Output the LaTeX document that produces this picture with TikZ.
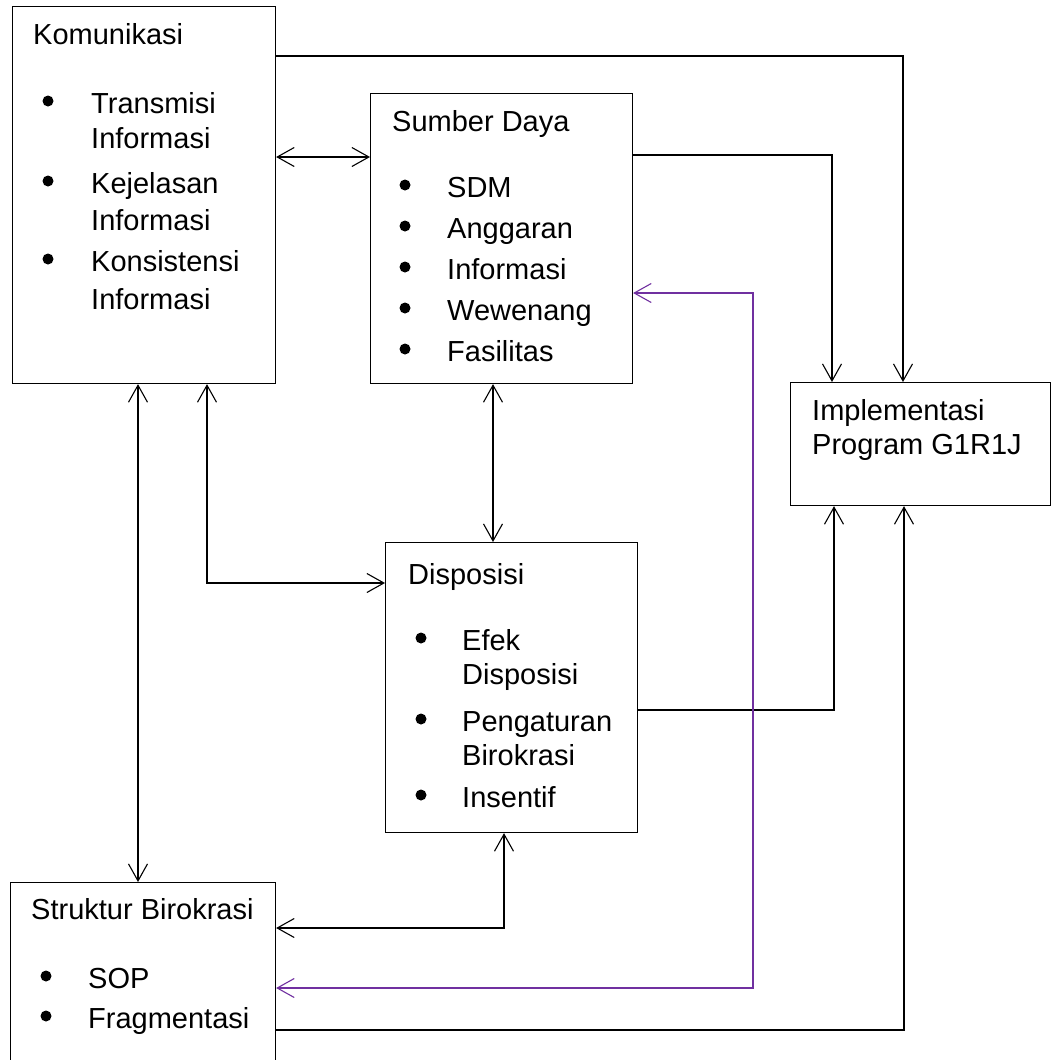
\documentclass[tikz,border=0pt]{standalone}
\usepackage{fontspec}
\setmainfont{Liberation Sans}
\usetikzlibrary{arrows.meta}

\definecolor{linkpurple}{RGB}{112,48,160}

\begin{document}
\begin{tikzpicture}[x=1bp,y=-1bp,
  box/.style={draw, line width=1.1bp, anchor=north west, inner sep=0pt},
  txt/.style={anchor=base west, inner sep=0pt, font=\fontsize{29bp}{34bp}\selectfont},
  dot/.style={circle, fill, inner sep=0pt, minimum size=11bp},
  link/.style={line width=1.1bp, -{Straight Barb[length=17bp,width=19bp]}},
  both/.style={line width=1.1bp, {Straight Barb[length=17bp,width=19bp]}-{Straight Barb[length=17bp,width=19bp]}}]
  \useasboundingbox (0,0) rectangle (1053,1060);

  % boxes
  \node[box, minimum width=263bp, minimum height=377bp] (kom) at (12,6) {};
  \node[box, minimum width=262bp, minimum height=290bp] (sd) at (370,93) {};
  \node[box, minimum width=260bp, minimum height=123bp] (impl) at (790,382) {};
  \node[box, minimum width=252bp, minimum height=290bp] (disp) at (385,542) {};
  \node[box, minimum width=265bp, minimum height=180bp] (sb) at (10,882) {};

  % Komunikasi
  \node[txt] (kom-t) at (33,44) {Komunikasi};
  \node[dot] (kom-b1) at (48,101) {};
  \node[txt] (kom-1a) at (91,113) {Transmisi};
  \node[txt] (kom-1b) at (91,148) {Informasi};
  \node[dot] (kom-b2) at (48,181) {};
  \node[txt] (kom-2a) at (91,193) {Kejelasan};
  \node[txt] (kom-2b) at (91,230) {Informasi};
  \node[dot] (kom-b3) at (48,259) {};
  \node[txt] (kom-3a) at (91,271) {Konsistensi};
  \node[txt] (kom-3b) at (91,309) {Informasi};

  % Sumber Daya
  \node[txt] (sd-t) at (392,131) {Sumber Daya};
  \node[dot] (sd-b1) at (405,185) {};
  \node[txt] (sd-1) at (447,197) {SDM};
  \node[dot] (sd-b2) at (405,226) {};
  \node[txt] (sd-2) at (447,238) {Anggaran};
  \node[dot] (sd-b3) at (405,267) {};
  \node[txt] (sd-3) at (447,279) {Informasi};
  \node[dot] (sd-b4) at (405,308) {};
  \node[txt] (sd-4) at (447,320) {Wewenang};
  \node[dot] (sd-b5) at (405,349) {};
  \node[txt] (sd-5) at (447,361) {Fasilitas};

  % Implementasi
  \node[txt] (impl-1) at (812,420) {Implementasi};
  \node[txt] (impl-2) at (812,454) {Program G1R1J};

  % Disposisi
  \node[txt] (disp-t) at (408,584) {Disposisi};
  \node[dot] (disp-b1) at (421,638) {};
  \node[txt] (disp-1a) at (462,650) {Efek};
  \node[txt] (disp-1b) at (462,684) {Disposisi};
  \node[dot] (disp-b2) at (421,719) {};
  \node[txt] (disp-2a) at (462,731) {Pengaturan};
  \node[txt] (disp-2b) at (462,765) {Birokrasi};
  \node[dot] (disp-b3) at (421,795) {};
  \node[txt] (disp-3) at (462,807) {Insentif};

  % Struktur Birokrasi
  \node[txt] (sb-t) at (31,919) {Struktur Birokrasi};
  \node[dot] (sb-b1) at (46,976) {};
  \node[txt] (sb-1) at (88,988) {SOP};
  \node[dot] (sb-b2) at (46,1016) {};
  \node[txt] (sb-2) at (88,1028) {Fragmentasi};

  % connectors
  \coordinate (pbend) at (753,640);
  \draw[both] (kom.east |- 0,157) -- (sd.west |- 0,157);
  \draw[link] (kom.east |- 0,56) -| (impl.north -| 903,0);
  \draw[link] (sd.east |- 0,155) -| (impl.north -| 832,0);
  \draw[both] (kom.south -| 138,0) -- (sb.north -| 138,0);
  \draw[both] (kom.south -| 207,0) |- (disp.west |- 0,583);
  \draw[both] (sd.south -| 493,0) -- (disp.north -| 493,0);
  \draw[link] (disp.east |- 0,710) -| (impl.south -| 834,0);
  \draw[both] (disp.south -| 504,0) |- (sb.east |- 0,928);
  \draw[both, linkpurple] (sd.east |- 0,293) -| (pbend) |- (sb.east |- 0,988);
  \draw[link] (sb.east |- 0,1030) -| (impl.south -| 904,0);
\end{tikzpicture}
\end{document}
